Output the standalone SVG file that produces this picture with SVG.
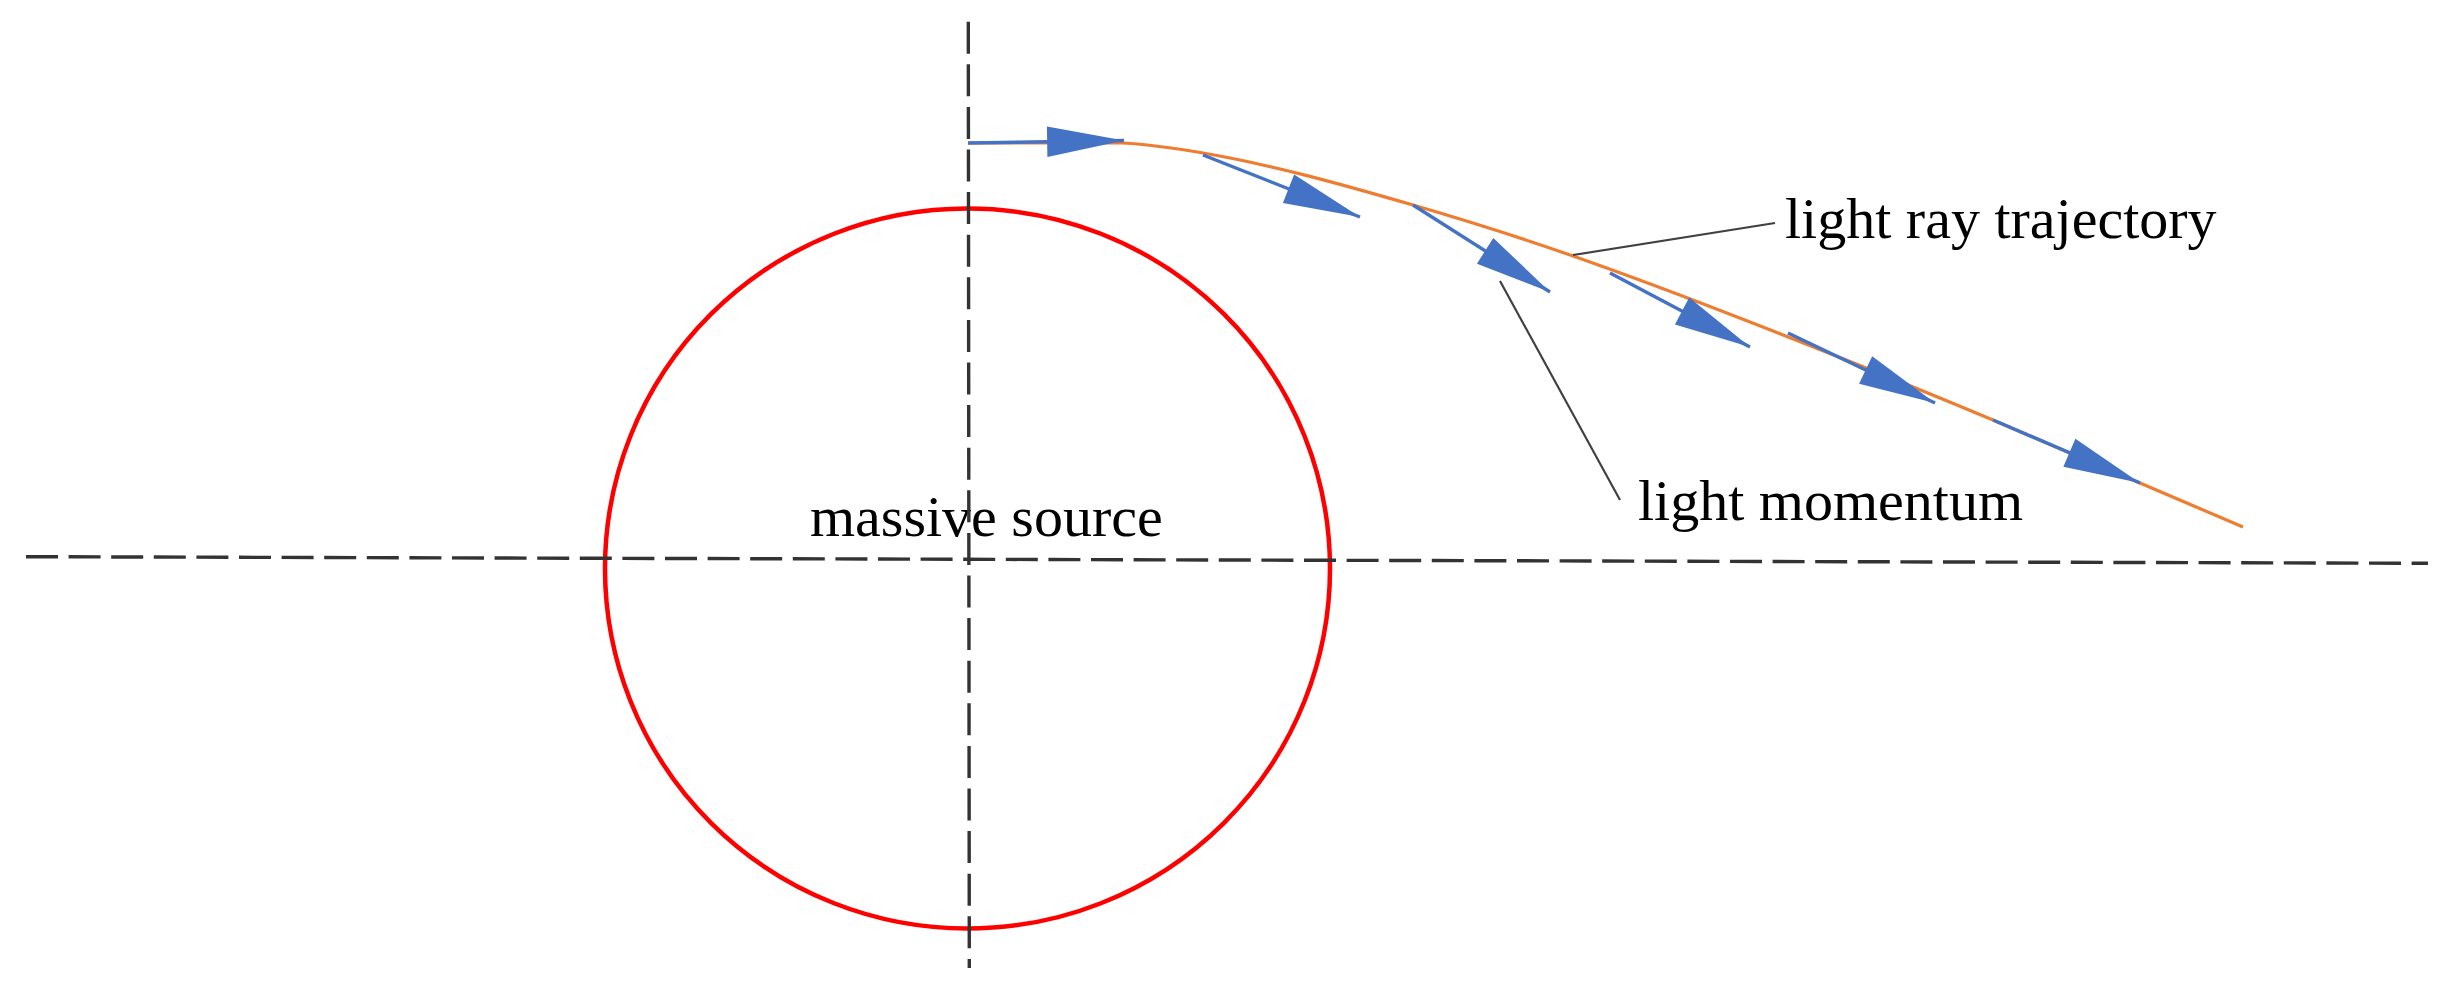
<svg xmlns="http://www.w3.org/2000/svg" width="2453" height="990" viewBox="0 0 2453 990">
<style>
.axis{fill:none;stroke:#333;stroke-width:3.4;stroke-dasharray:32 10.6}
.ray{fill:none;stroke:#ED7D31;stroke-width:3.2}
.mom{fill:none;stroke:#4472C4;stroke-width:3.4;marker-end:url(#head)}
.lead{fill:none;stroke:#404040;stroke-width:2.2}
.lbl{font-family:"Liberation Serif","Times New Roman",serif;font-size:58px;fill:#000}
</style>
<defs>
<marker id="head" markerUnits="userSpaceOnUse" markerWidth="80" markerHeight="34" viewBox="-74 -16 76 32" refX="0" refY="0" orient="auto">
<path d="M0,0 L-73,-14.5 L-73,14.5 Z" fill="#4472C4"/>
</marker>
</defs>
<rect width="2453" height="990" fill="#fff"/>
<g id="source">
<ellipse cx="967.5" cy="568.5" rx="362.5" ry="360" fill="none" stroke="#FF0000" stroke-width="4.5"/>
<text class="lbl" x="810" y="536">massive source</text>
</g>
<g id="axes">
<line class="axis" x1="26" y1="556.7" x2="2428" y2="563.3"/>
<line class="axis" x1="968.3" y1="21.7" x2="969.3" y2="968"/>
</g>
<g id="trajectory">
<path class="ray" d="M968,143 L1123,143 C1149.7,144.6 1176.3,148.5 1203,153 C1273,164.9 1343,184.7 1413,205 C1466.3,220.5 1519.7,237.3 1573,256 C1632,276.7 1691,299 1750,322 C1831,353.6 1912,386 1993,420 C2042,440.6 2091,461.9 2140,483 C2174.3,497.8 2208.7,512.2 2243,527"/>
</g>
<g id="momentum">
<line class="mom" x1="968" y1="143" x2="1124" y2="140.5"/>
<line class="mom" x1="1203" y1="155" x2="1360" y2="217"/>
<line class="mom" x1="1413" y1="205" x2="1550" y2="292"/>
<line class="mom" x1="1610" y1="273" x2="1750" y2="347"/>
<line class="mom" x1="1788" y1="333" x2="1935" y2="403"/>
<line class="mom" x1="1993" y1="420" x2="2140" y2="483"/>
</g>
<g id="labels">
<line class="lead" x1="1573" y1="255" x2="1775" y2="223"/>
<text class="lbl" x="1785" y="238">light ray trajectory</text>
<line class="lead" x1="1500" y1="281" x2="1620" y2="500"/>
<text class="lbl" x="1638" y="520">light momentum</text>
</g>
</svg>
